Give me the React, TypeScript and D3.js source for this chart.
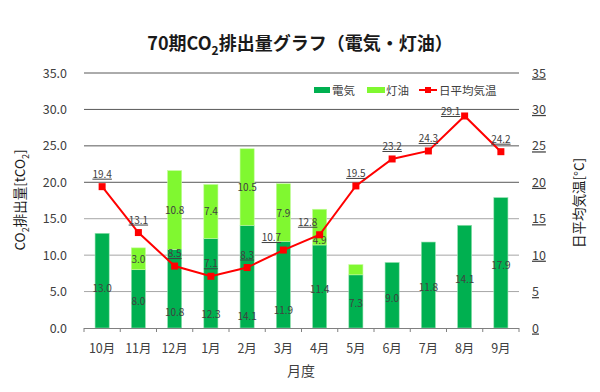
import React from "react";
import * as d3 from "d3";

const months = ["10月", "11月", "12月", "1月", "2月", "3月", "4月", "5月", "6月", "7月", "8月", "9月"];
const electricity = [13.0, 8.0, 10.8, 12.3, 14.1, 11.9, 11.4, 7.3, 9.0, 11.8, 14.1, 17.9];
const kerosene = [0, 3.0, 10.8, 7.4, 10.5, 7.9, 4.9, 1.4, 0, 0, 0, 0];
const temperature = [19.4, 13.1, 8.5, 7.1, 8.3, 10.7, 12.8, 19.5, 23.2, 24.3, 29.1, 24.2];
const leftTicks = [0, 5, 10, 15, 20, 25, 30, 35];
const rightTicks = [0, 5, 10, 15, 20, 25, 30, 35];

// label anchors (in value units) for electricity labels, as placed in the original
const elecLabelAt = [5.5, 3.7, 2.2, 1.9, 1.65, 2.5, 5.4, 3.4, 4.1, 5.6, 6.7, 8.6];
const keroLabelShift = [0, 0, 0, 0, 0, 0, 13, 0, 0, 0, 0, 0];
const tempLabelDx = [0, 0, 0, 0, 0, -12, -12, 0, 0, 0, -14, 0];
const tempLabelDy = [-9, -9, -9, -9, -9, -9, -9, -9, -9, -9, -1, -9];

const W = 600, H = 392;
const left = 84, right = 519, top = 73, bottom = 328;
const font = "'Noto Sans CJK JP', 'Noto Sans', sans-serif";

export default function App() {
  const x = d3.scaleBand<string>().domain(months).range([left, right]).paddingInner(0.61).paddingOuter(0.305);
  const y = d3.scaleLinear().domain([0, 35]).range([bottom, top]);
  const y2 = d3.scaleLinear().domain([0, 35]).range([bottom, top]);
  const edges = d3.range(months.length + 1).map((i) => left + (i * (right - left)) / months.length);
  const cx = (m: string) => (x(m) as number) + x.bandwidth() / 2;
  const line = d3.line<number>().x((_, i) => cx(months[i])).y((d) => y2(d));
  const elecColor = "#00B050";
  const keroColor = "#80F830";
  const textColor = "#404040";

  return (
    <svg width={W} height={H} style={{ position: "absolute", left: 0, top: 0, fontFamily: font }}>
      <rect width={W} height={H} fill="#fff" />
      <text x={300} y={50} textAnchor="middle" fontSize={18} fontWeight="bold" fill="#1a1a1a">
        70期CO<tspan fontSize={12} dy={5}>2</tspan><tspan dy={-5}>排出量グラフ（電気・灯油）</tspan>
      </text>
      {/* grid */}
      {leftTicks.filter((t) => t > 0).map((t) => (
        <line key={t} x1={left} x2={right} y1={y(t)} y2={y(t)} stroke={t >= 20 ? "#595959" : "#a6a6a6"} strokeWidth={1} />
      ))}
      {/* bars */}
      {months.map((m, i) => (
        <g key={m}>
          <rect x={x(m)} y={y(electricity[i])} width={x.bandwidth()} height={y(0) - y(electricity[i])} fill={elecColor} stroke="#9be3b4" strokeWidth={0.6} />
          {kerosene[i] > 0 && (
            <rect x={x(m)} y={y(electricity[i] + kerosene[i])} width={x.bandwidth()} height={y(electricity[i]) - y(electricity[i] + kerosene[i])} fill={keroColor} stroke="#c4fb9c" strokeWidth={0.6} />
          )}
        </g>
      ))}
      {/* bottom axis */}
      <line x1={left} x2={right} y1={bottom + 0.5} y2={bottom + 0.5} stroke="#808080" />
      {edges.map((e, i) => (
        <line key={i} x1={e} x2={e} y1={bottom} y2={bottom + 4} stroke="#808080" />
      ))}
      {/* bar labels */}
      {months.map((m, i) => (
        <g key={"l" + m} fontSize={10} fill={textColor} textAnchor="middle">
          <text x={cx(m)} y={y(elecLabelAt[i]) + 4}>{electricity[i].toFixed(1)}</text>
          {kerosene[i] >= 2 && (
            <text x={cx(m)} y={y(electricity[i] + kerosene[i] / 2) + 4 + keroLabelShift[i]}>{kerosene[i].toFixed(1)}</text>
          )}
        </g>
      ))}
      {/* temperature line */}
      <path d={line(temperature) || ""} fill="none" stroke="#ff0000" strokeWidth={2} />
      {temperature.map((t, i) => (
        <rect key={"p" + i} x={cx(months[i]) - 3.5} y={y2(t) - 3.5} width={7} height={7} fill="#ff0000" />
      ))}
      {temperature.map((t, i) => (
        <text key={"t" + i} x={cx(months[i]) + tempLabelDx[i]} y={y2(t) + tempLabelDy[i]} fontSize={10} fill={textColor} textAnchor="middle" textDecoration="underline">
          {t.toFixed(1)}
        </text>
      ))}
      {/* left axis labels */}
      {leftTicks.map((t) => (
        <text key={"yl" + t} x={67} y={y(t) + 4.5} fontSize={12.5} fill={textColor} textAnchor="end">{t.toFixed(1)}</text>
      ))}
      {/* right axis labels */}
      {rightTicks.map((t) => (
        <text key={"yr" + t} x={532} y={y2(t) + 4.5} fontSize={12.5} fill={textColor} textAnchor="start" textDecoration="underline">{t}</text>
      ))}
      {/* x labels */}
      {months.map((m) => (
        <text key={"x" + m} x={cx(m)} y={353} fontSize={12.5} fill={textColor} textAnchor="middle">{m}</text>
      ))}
      <text x={301} y={376} fontSize={14} fill={textColor} textAnchor="middle">月度</text>
      {/* left title */}
      <text transform={`translate(25,${200}) rotate(-90)`} fontSize={13.5} fill="#1a1a1a" textAnchor="middle">
        CO<tspan fontSize={9} dy={4}>2</tspan><tspan dy={-4}>排出量[tCO</tspan><tspan fontSize={9} dy={4}>2</tspan><tspan dy={-4}>]</tspan>
      </text>
      {/* right title */}
      <text transform={`translate(584,${203}) rotate(-90)`} fontSize={13.5} fill="#1a1a1a" textAnchor="middle">日平均気温[°C]</text>
      {/* legend */}
      <g fontSize={11.5} fill={textColor}>
        <rect x={314} y={87} width={16} height={6} fill={elecColor} />
        <text x={332} y={94.5}>電気</text>
        <rect x={367} y={87} width={18} height={6} fill={keroColor} />
        <text x={386} y={94.5}>灯油</text>
        <line x1={419} x2={437} y1={90} y2={90} stroke="#ff0000" strokeWidth={2} />
        <rect x={425} y={87} width={6} height={6} fill="#ff0000" />
        <text x={439} y={94.5}>日平均気温</text>
      </g>
    </svg>
  );
}
